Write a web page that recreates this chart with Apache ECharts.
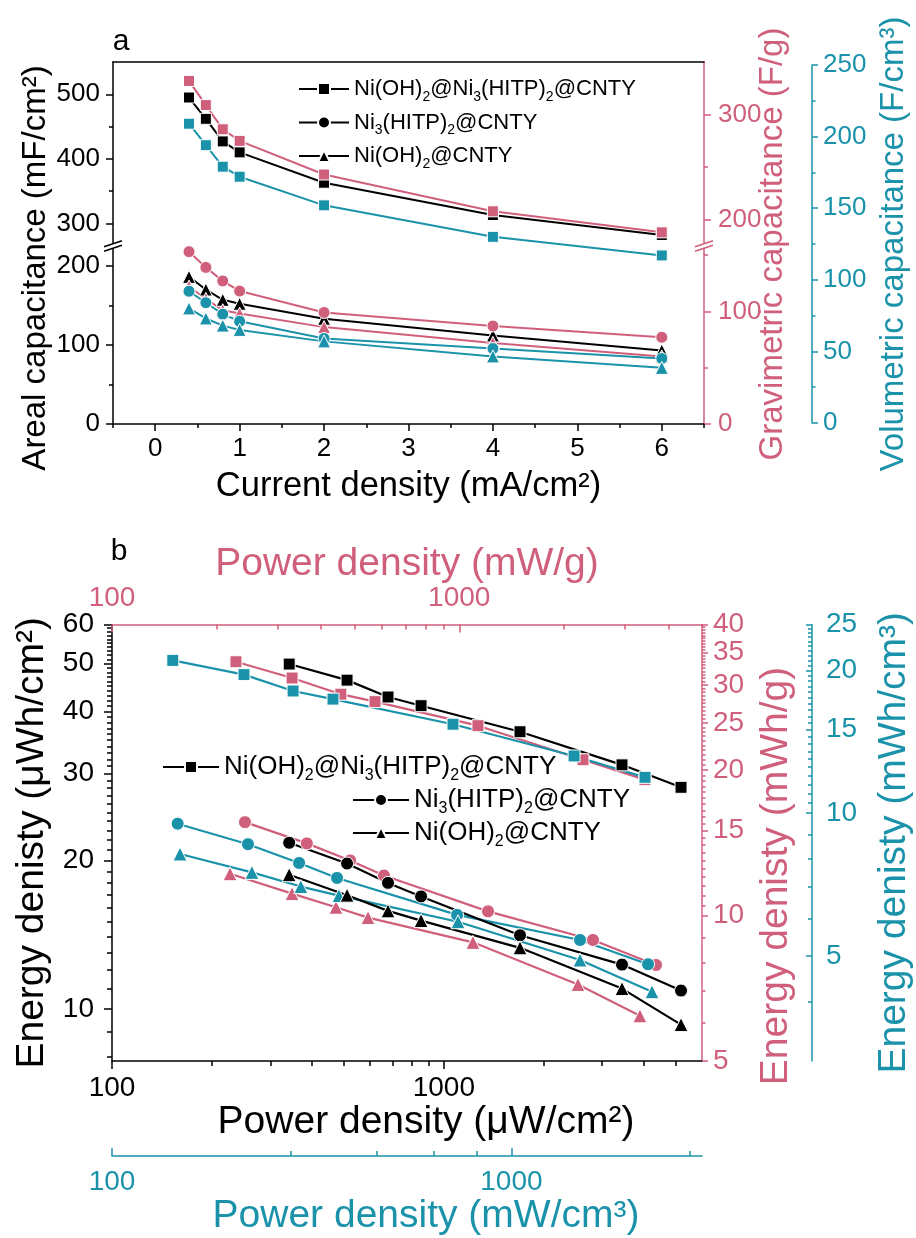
<!DOCTYPE html>
<html>
<head>
<meta charset="utf-8">
<script src="https://cdn.jsdelivr.net/npm/echarts@6/dist/echarts.min.js"></script>
<style>
  html, body { margin: 0; padding: 0; background: #fff; }
  #chart { width: 916px; height: 1238px; }
</style>
</head>
<body>
<div id="chart"></div>
<script>
// ---------- panel a: capacitance vs current density ----------
const currentDensity = [0.4, 0.6, 0.8, 1, 2, 4, 6];              // mA/cm2
const arealComposite = [495, 462, 427, 410, 363, 313, 282];      // mF/cm2
const gravComposite  = [332, 309, 286, 275, 243, 208, 188];      // F/g
const volComposite   = [209, 194, 179, 172, 152, 130, 117];      // F/cm3
const arealNiOH      = [186, 170, 157, 152, 133, 112, 93];       // mF/cm2
const gravNi3        = [153, 139, 127, 118, 99, 87, 77];         // F/g
const gravNiOH       = [122, 111, 101, 98, 86, 72, 60];          // F/g
const volNi3         = [92, 84, 76, 71, 59, 52, 45];             // F/cm3
const volNiOH        = [80, 73, 68, 65, 57, 46.5, 38.5];         // F/cm3

const currentTicks   = [0, 1, 2, 3, 4, 5, 6];
const currentMinor   = [-0.5, 0.5, 1.5, 2.5, 3.5, 4.5, 5.5, 6.5];
const arealUpperTicks = [300, 400, 500];
const arealUpperMinor = [350, 450];
const arealLowerTicks = [0, 100, 200];
const arealLowerMinor = [50, 150];
const gravUpperTicks  = [200, 300];
const gravUpperMinor  = [250];
const gravLowerTicks  = [0, 100];
const gravLowerMinor  = [50, 150];
const volTicks        = [0, 50, 100, 150, 200, 250];
const volMinor        = [25, 75, 125, 175, 225];

// ---------- panel b: Ragone plot ----------
const pArealComposite = [342, 511, 679, 854, 1697, 3444, 5187];  // uW/cm2
const eArealComposite = [49.9, 46.3, 42.8, 41.1, 36.4, 31.2, 28.1];
const pArealNi3       = [342, 511, 679, 854, 1697, 3444, 5187];
const eArealNi3       = [21.7, 19.7, 18.0, 16.9, 14.1, 12.3, 10.9];
const pArealNiOH      = [342, 511, 679, 854, 1697, 3444, 5187];
const eArealNiOH      = [18.7, 17.0, 15.8, 15.1, 13.3, 11.0, 9.3];

const pGravComposite  = [227.5, 330, 456, 572, 1132, 2271, 3425]; // mW/g
const eGravComposite  = [33.5, 31.0, 28.7, 27.7, 24.7, 21.0, 19.1];
const pGravNi3        = [241.5, 364, 485, 607, 1210, 2427, 3686];
const eGravNi3        = [15.6, 14.1, 13.0, 12.1, 10.2, 8.9, 7.9];
const pGravNiOH       = [218.7, 330, 441.6, 546, 1095, 2197, 3313];
const eGravNiOH       = [12.2, 11.1, 10.4, 9.9, 8.8, 7.2, 6.2];

const pVolComposite   = [142, 214, 284, 357.5, 714, 1435, 2160]; // mW/cm3
const eVolComposite   = [21.0, 19.6, 18.1, 17.4, 15.4, 13.2, 11.9];
const pVolNi3         = [146, 219, 294, 366, 731, 1485, 2198];
const eVolNi3         = [9.5, 8.6, 7.85, 7.3, 6.1, 5.4, 4.8];
const pVolNiOH        = [148, 224, 297, 370, 735, 1485, 2249];
const eVolNiOH        = [8.2, 7.5, 7.0, 6.7, 5.9, 4.9, 4.2];

const powerLabels      = [100, 1000];
const arealPowerMinor  = [200, 300, 400, 500, 600, 700, 800, 900, 2000, 3000, 4000, 5000];
const gravPowerMinor   = [200, 300, 400, 500, 600, 700, 800, 900, 2000, 3000, 4000];
const volPowerMinor    = [280, 460, 640, 820, 2800];
const arealEnergyTicks = [10, 20, 30, 40, 50, 60];
const gravEnergyTicks  = [5, 10, 15, 20, 25, 30, 35, 40];
const volEnergyTicks   = [5, 10, 15, 20, 25];

const NAME_COMPOSITE = 'Ni(OH)2@Ni3(HITP)2@CNTY';
const NAME_NI3 = 'Ni3(HITP)2@CNTY';
const NAME_NIOH = 'Ni(OH)2@CNTY';

// ---------- styling ----------
const FONT = '"Liberation Sans", Arial, Helvetica, sans-serif';
const BLACK = '#000000';
const PINK = '#d05f7c';
const CYAN = '#1a92aa';

// plot rectangles
const A = { left: 113, right: 704, top: 62, brk: 246, bottom: 424, volTop: 65, volBottom: 423 };
const B = { left: 112, right: 702, top: 624.5, bottom: 1061 };

function steps(a, b, s) {
  const out = [];
  for (let v = a; v <= b + 1e-9; v += s) out.push(Math.round(v * 100) / 100);
  return out;
}
function without(list, skip) { return list.filter(v => skip.indexOf(v) < 0); }

const arealEnergyMinor = without(steps(8, 60, 1), arealEnergyTicks);
const gravEnergyMinor  = without(steps(6, 10, 1).concat(steps(10.5, 40, 0.5)), gravEnergyTicks);
const volEnergyMinor   = without([4, 6, 7, 8, 9].concat(steps(10.5, 25, 0.5)), volEnergyTicks);

function mainAxis(o) {
  return {
    gridIndex: o.grid, type: o.type || 'value', min: o.min, max: o.max,
    position: o.position, offset: o.offset || 0,
    axisLine: { show: o.line !== false, onZero: false, lineStyle: { color: o.color, width: 1.5 } },
    axisTick: { show: !!o.ticks, customValues: o.ticks, length: o.len || 7, inside: !!o.inside,
                lineStyle: { color: o.color, width: 1.5 } },
    axisLabel: { show: !!o.labels, customValues: o.labels, margin: o.margin || 12, color: o.color,
                 fontSize: o.fontSize || 26, fontFamily: FONT, hideOverlap: false,
                 formatter: v => String(v) },
    splitLine: { show: false }, minorTick: { show: false }, minorSplitLine: { show: false },
    name: o.name || '', nameLocation: 'middle', nameGap: o.nameGap || 0,
    nameTextStyle: { color: o.color, fontSize: o.nameSize || 33, fontFamily: FONT,
                     padding: o.namePadding || 0 },
    silent: true, z: 5
  };
}
function minorAxis(o) {
  return {
    gridIndex: o.grid, type: o.type || 'value', min: o.min, max: o.max,
    position: o.position, offset: o.offset || 0,
    axisLine: { show: false, onZero: false },
    axisTick: { show: true, customValues: o.ticks, length: o.len || 4, inside: !!o.inside,
                lineStyle: { color: o.color, width: 1.5 } },
    axisLabel: { show: false },
    splitLine: { show: false }, minorTick: { show: false },
    silent: true, z: 5
  };
}

const xAxis = [
  /*0*/ mainAxis({ grid: 0, min: -0.5, max: 6.5, position: 'top', color: BLACK }),
  /*1*/ mainAxis({ grid: 1, min: -0.5, max: 6.5, position: 'bottom', color: BLACK,
                   ticks: currentTicks, labels: currentTicks, len: 7, margin: 12,
                   name: 'Current density (mA/cm²)', nameGap: 45, nameSize: 34.5 }),
  /*2*/ minorAxis({ grid: 1, min: -0.5, max: 6.5, position: 'bottom', color: BLACK, ticks: currentMinor, len: 4 }),
  /*3*/ { gridIndex: 2, type: 'value', min: -0.5, max: 6.5, show: false },
  /*4*/ mainAxis({ grid: 3, type: 'log', min: 100, max: 6000, position: 'bottom', color: BLACK,
                   ticks: powerLabels, labels: powerLabels, len: 8, margin: 13, fontSize: 28,
                   name: 'Power density (μW/cm²)', nameGap: 34, nameSize: 39, namePadding: [0, 0, 0, 38] }),
  /*5*/ minorAxis({ grid: 3, type: 'log', min: 100, max: 6000, position: 'bottom', color: BLACK,
                    ticks: arealPowerMinor, len: 5 }),
  /*6*/ mainAxis({ grid: 3, type: 'log', min: 100, max: 5000, position: 'top', color: PINK,
                   ticks: powerLabels, labels: powerLabels, len: 8, inside: true, margin: 12, fontSize: 28,
                   name: 'Power density (mW/g)', nameGap: 37, nameSize: 39 }),
  /*7*/ minorAxis({ grid: 3, type: 'log', min: 100, max: 5000, position: 'top', color: PINK,
                    ticks: gravPowerMinor, len: 5, inside: true }),
  /*8*/ mainAxis({ grid: 3, type: 'log', min: 100, max: 3000, position: 'bottom', offset: 95, color: CYAN,
                   ticks: powerLabels, labels: powerLabels, len: 8, inside: true, margin: 12, fontSize: 28,
                   name: 'Power density (mW/cm³)', nameGap: 34, nameSize: 39, namePadding: [0, 0, 0, 38] }),
  /*9*/ minorAxis({ grid: 3, type: 'log', min: 100, max: 3000, position: 'bottom', offset: 95, color: CYAN,
                    ticks: volPowerMinor, len: 5, inside: true })
];

const yAxis = [
  /*0*/ mainAxis({ grid: 0, min: 265, max: 550, position: 'left', color: BLACK,
                   ticks: arealUpperTicks, labels: arealUpperTicks, len: 7, margin: 13 }),
  /*1*/ minorAxis({ grid: 0, min: 265, max: 550, position: 'left', color: BLACK, ticks: arealUpperMinor }),
  /*2*/ mainAxis({ grid: 1, min: 0, max: 225, position: 'left', color: BLACK,
                   ticks: arealLowerTicks, labels: arealLowerTicks, len: 7, margin: 13 }),
  /*3*/ minorAxis({ grid: 1, min: 0, max: 225, position: 'left', color: BLACK, ticks: arealLowerMinor }),
  /*4*/ mainAxis({ grid: 0, min: 175, max: 350, position: 'right', color: PINK,
                   ticks: gravUpperTicks, labels: gravUpperTicks, len: 7, margin: 14 }),
  /*5*/ minorAxis({ grid: 0, min: 175, max: 350, position: 'right', color: PINK, ticks: gravUpperMinor }),
  /*6*/ mainAxis({ grid: 1, min: 0, max: 158, position: 'right', color: PINK,
                   ticks: gravLowerTicks, labels: gravLowerTicks, len: 7, margin: 14 }),
  /*7*/ minorAxis({ grid: 1, min: 0, max: 158, position: 'right', color: PINK, ticks: gravLowerMinor }),
  /*8*/ mainAxis({ grid: 2, min: 0, max: 250, position: 'right', offset: 108, color: CYAN,
                   ticks: volTicks, labels: volTicks, len: 6, margin: 11,
                   name: 'Volumetric capacitance (F/cm³)', nameGap: 65, nameSize: 33 }),
  /*9*/ minorAxis({ grid: 2, min: 0, max: 250, position: 'right', offset: 108, color: CYAN, ticks: volMinor, len: 3.5 }),
  /*10*/ mainAxis({ grid: 3, type: 'log', min: 7.85, max: 60, position: 'left', color: BLACK,
                    ticks: arealEnergyTicks, labels: arealEnergyTicks, len: 8, margin: 18, fontSize: 28,
                    name: 'Energy denisty (μWh/cm²)', nameGap: 50, nameSize: 39 }),
  /*11*/ minorAxis({ grid: 3, type: 'log', min: 7.85, max: 60, position: 'left', color: BLACK,
                     ticks: arealEnergyMinor, len: 5 }),
  /*12*/ mainAxis({ grid: 3, type: 'log', min: 5, max: 40, position: 'right', color: PINK,
                    ticks: gravEnergyTicks, labels: gravEnergyTicks, len: 6, margin: 11, fontSize: 28 }),
  /*13*/ minorAxis({ grid: 3, type: 'log', min: 5, max: 40, position: 'right', color: PINK,
                     ticks: gravEnergyMinor, len: 3.5 }),
  /*14*/ mainAxis({ grid: 3, type: 'log', min: 3, max: 25, position: 'right', offset: 110, color: CYAN,
                    ticks: volEnergyTicks, labels: volEnergyTicks, len: 6, inside: true, margin: 14, fontSize: 28,
                    name: 'Energy denisty (mWh/cm³)', nameGap: 63, nameSize: 39 }),
  /*15*/ minorAxis({ grid: 3, type: 'log', min: 3, max: 25, position: 'right', offset: 110, color: CYAN,
                     ticks: volEnergyMinor, len: 4, inside: true }),
  /*16*/ mainAxis({ grid: 2, min: 0, max: 250, position: 'right', color: PINK, line: false,
                    name: 'Gravimetric capacitance (F/g)', nameGap: 52, nameSize: 33 })
];

const series = [];
function addLine(name, xs, ys, xi, yi, color, symbol, size, width) {
  series.push({
    type: 'line', name: name, xAxisIndex: xi, yAxisIndex: yi,
    data: xs.map((x, i) => [x, ys[i]]),
    symbol: symbol, symbolSize: size, showSymbol: true,
    lineStyle: { color: color, width: width },
    itemStyle: { color: color, borderColor: '#ffffff', borderWidth: 1 },
    emphasis: { disabled: true }, silent: true, z: 3
  });
}

// panel a
addLine(NAME_COMPOSITE, currentDensity, arealComposite, 0, 0, BLACK, 'rect', 11, 2);
addLine(NAME_NIOH, currentDensity, arealNiOH, 1, 2, BLACK, 'triangle', 13, 2);
addLine('gravimetric composite', currentDensity, gravComposite, 0, 4, PINK, 'rect', 11, 2);
addLine('gravimetric Ni3', currentDensity, gravNi3, 1, 6, PINK, 'circle', 12, 2);
addLine('gravimetric NiOH', currentDensity, gravNiOH, 1, 6, PINK, 'triangle', 13, 2);
addLine('volumetric composite', currentDensity, volComposite, 3, 8, CYAN, 'rect', 11, 2);
addLine('volumetric Ni3', currentDensity, volNi3, 3, 8, CYAN, 'circle', 12, 2);
addLine('volumetric NiOH', currentDensity, volNiOH, 3, 8, CYAN, 'triangle', 13, 2);

// panel b
addLine('mW/g composite', pGravComposite, eGravComposite, 6, 12, PINK, 'rect', 12, 2.2);
addLine('mW/g Ni3', pGravNi3, eGravNi3, 6, 12, PINK, 'circle', 13, 2.2);
addLine('mW/g NiOH', pGravNiOH, eGravNiOH, 6, 12, PINK, 'triangle', 14, 2.2);
addLine('mW/cm3 composite', pVolComposite, eVolComposite, 8, 14, CYAN, 'rect', 12, 2.2);
addLine('mW/cm3 Ni3', pVolNi3, eVolNi3, 8, 14, CYAN, 'circle', 13, 2.2);
addLine('mW/cm3 NiOH', pVolNiOH, eVolNiOH, 8, 14, CYAN, 'triangle', 14, 2.2);
addLine(NAME_COMPOSITE, pArealComposite, eArealComposite, 4, 10, BLACK, 'rect', 12, 2.2);
addLine(NAME_NI3, pArealNi3, eArealNi3, 4, 10, BLACK, 'circle', 13, 2.2);
addLine(NAME_NIOH, pArealNiOH, eArealNiOH, 4, 10, BLACK, 'triangle', 14, 2.2);

// chemical formula with subscript digits
function chem(name) {
  return '{n|' + name.replace(/(\d)/g, '}{s|$1}{n|') + '}';
}
function legendBox(names, left, top, size, sub, gap, itemWidth) {
  return {
    data: names, orient: 'vertical', left: left, top: top, padding: 0,
    itemWidth: itemWidth, itemHeight: 15, itemGap: gap, selectedMode: false,
    formatter: chem,
    textStyle: {
      color: '#000', fontFamily: FONT,
      rich: {
        n: { fontSize: size, fontFamily: FONT, color: '#000', lineHeight: size + 8 },
        s: { fontSize: sub, fontFamily: FONT, color: '#000', verticalAlign: 'bottom', lineHeight: sub + 2 }
      }
    }
  };
}

function breakMark(x, y, color) {
  const w = 9, dy = 3, sep = 4.5;
  return [
    { type: 'polygon', z: 100, silent: true,
      shape: { points: [[x - w, y + dy + sep / 2], [x + w, y - dy + sep / 2], [x + w, y - dy - sep / 2], [x - w, y + dy - sep / 2]] },
      style: { fill: '#ffffff' } },
    { type: 'line', z: 101, silent: true,
      shape: { x1: x - w, y1: y + dy + sep / 2, x2: x + w, y2: y - dy + sep / 2 },
      style: { stroke: color, lineWidth: 1.5 } },
    { type: 'line', z: 101, silent: true,
      shape: { x1: x - w, y1: y + dy - sep / 2, x2: x + w, y2: y - dy - sep / 2 },
      style: { stroke: color, lineWidth: 1.5 } }
  ];
}

function sideTitle(text, x, y, size, color) {
  return { type: 'text', x: x, y: y, rotation: Math.PI / 2, z: 100, silent: true,
           style: { text: text, font: size + 'px ' + FONT, fill: color, align: 'center', verticalAlign: 'middle' } };
}

const option = {
  animation: false,
  backgroundColor: '#ffffff',
  textStyle: { fontFamily: FONT },
  grid: [
    { left: A.left, top: A.top, width: A.right - A.left, height: A.brk - A.top, outerBoundsMode: 'none' },
    { left: A.left, top: A.brk, width: A.right - A.left, height: A.bottom - A.brk, outerBoundsMode: 'none' },
    { left: A.left, top: A.volTop, width: A.right - A.left, height: A.volBottom - A.volTop, outerBoundsMode: 'none' },
    { left: B.left, top: B.top, width: B.right - B.left, height: B.bottom - B.top, outerBoundsMode: 'none' }
  ],
  xAxis: xAxis,
  yAxis: yAxis,
  legend: [
    legendBox([NAME_COMPOSITE, NAME_NI3, NAME_NIOH], 298, 78, 22, 14, 7.5, 50),
    legendBox([NAME_COMPOSITE], 162, 754, 26, 16, 2, 56),
    legendBox([NAME_NI3, NAME_NIOH], 352, 787, 26, 16, 3, 56)
  ],
  series: series,
  graphic: [
    { type: 'text', x: 121, y: 42, z: 100, silent: true,
      style: { text: 'a', font: '30px ' + FONT, fill: '#000', align: 'center', verticalAlign: 'middle' } },
    { type: 'text', x: 119, y: 552, z: 100, silent: true,
      style: { text: 'b', font: '30px ' + FONT, fill: '#000', align: 'center', verticalAlign: 'middle' } },
    sideTitle('Areal capacitance (mF/cm²)', 36, 268, 33, BLACK),
    sideTitle('Energy denisty (mWh/g)', 776, 876, 39, PINK)
  ].concat(breakMark(A.left, A.brk, BLACK), breakMark(A.right, A.brk, PINK))
};

const chart = echarts.init(document.getElementById('chart'), null, { renderer: 'canvas' });
chart.setOption(option);
</script>
</body>
</html>
